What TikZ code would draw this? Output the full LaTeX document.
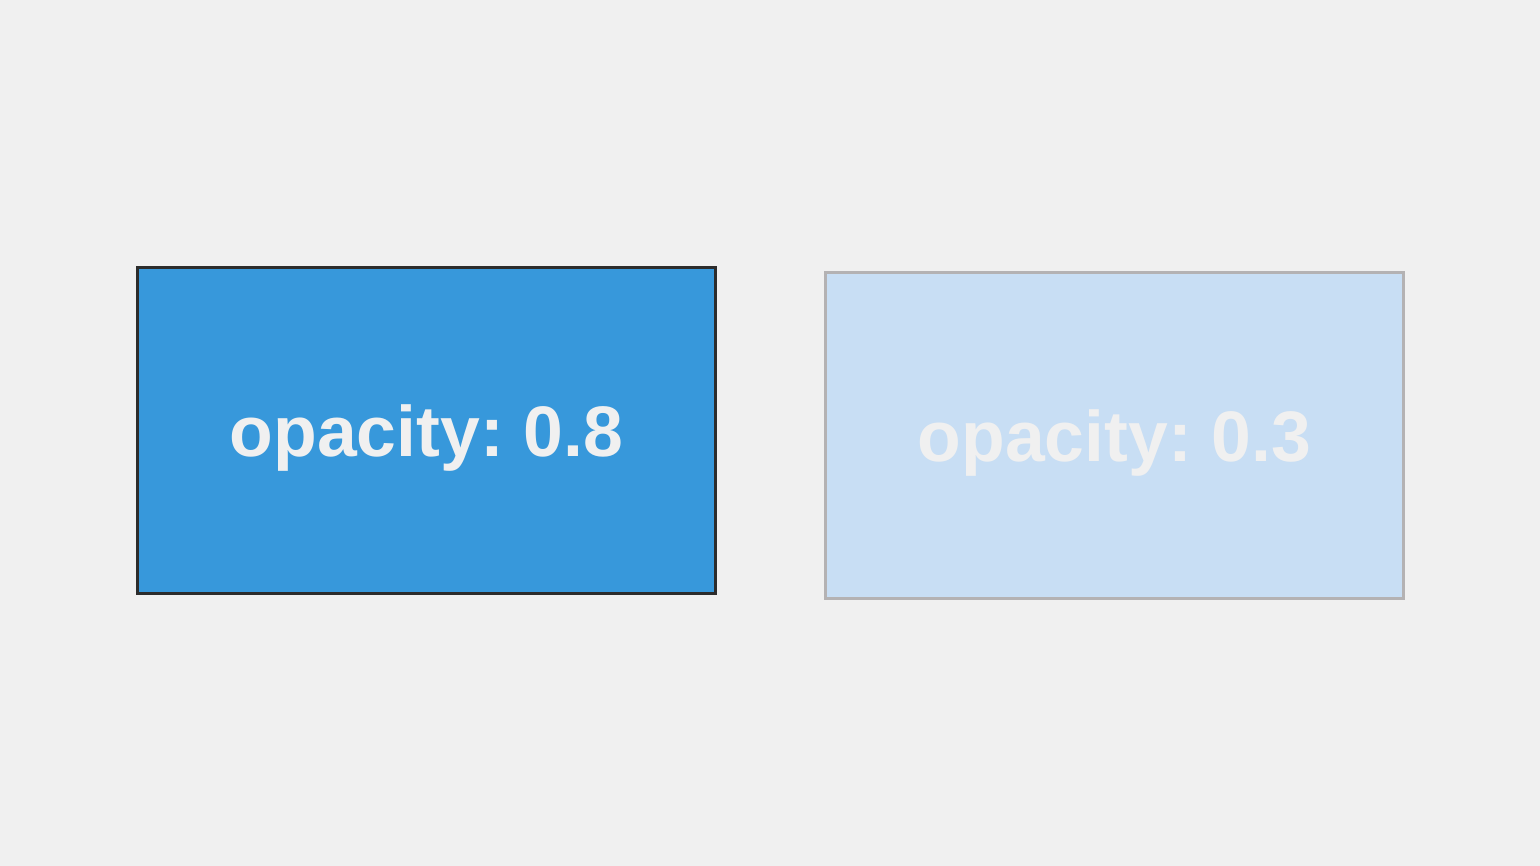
\documentclass[tikz,border=0pt]{standalone}
\usepackage{fontspec}
\setmainfont{Liberation Sans}
\usepackage{tikz}
\frenchspacing

\definecolor{pagebg}{HTML}{F0F0F0}
\definecolor{strongblue}{HTML}{3798DB}
\definecolor{paleblue}{HTML}{C8DEF4}
\definecolor{darkedge}{HTML}{2C2C2C}
\definecolor{greyedge}{HTML}{B4B2B3}

\tikzset{
	opbox/.style = {rectangle, line width = 1.7pt, minimum width = 11.56cm, minimum height = 6.52cm,
		text height = 1.34cm, text depth = 0.3cm,
		text = pagebg, font = \fontsize{40.7}{44}\selectfont\bfseries}
}

\begin{document}
\begin{tikzpicture}
	\fill [pagebg] (0,0) rectangle (30.8,17.32);
	\useasboundingbox (0,0) rectangle (30.8,17.32);
	\node [opbox, draw = darkedge, fill = strongblue] (high) at (8.53,8.71) {opacity: 0.8};
	\node [opbox, draw = greyedge, fill = paleblue] (low) at (22.29,8.61) {opacity: 0.3};
\end{tikzpicture}
\end{document}
